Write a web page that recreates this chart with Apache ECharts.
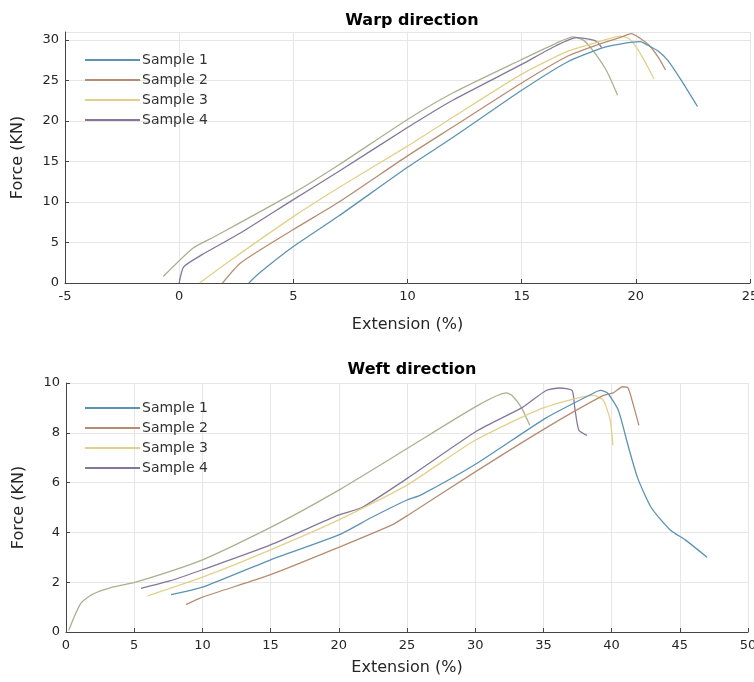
<!DOCTYPE html>
<html>
<head>
<meta charset="utf-8">
<script src="https://cdn.jsdelivr.net/npm/echarts@6/dist/echarts.min.js"></script>
<style>
  html, body { margin: 0; padding: 0; background: #fff; }
  #main { width: 754px; height: 682px; }
</style>
</head>
<body>
<div id="main"></div>
<script>
// 读图得到的数据 [extension %, force KN]
var sampleNames = ['Sample 1', 'Sample 2', 'Sample 3', 'Sample 4'];
var sampleColors = ['#5b93b5', '#b78c72', '#e2d08a', '#85779a', '#a9b190'];

// Warp direction
var warpSample1 = [[3.05,0],[3.5,1.2],[5,4.5],[7,8.3],[10,14.3],[12,18],[15,23.8],[17,27.3],[18.5,29],[19.3,29.5],[20.2,29.8],[20.5,29.4],[21,28.6],[21.4,27.5],[22,25],[22.7,21.8]];
var warpSample2 = [[1.9,0],[2.7,2.5],[5,6.6],[7,10],[10,15.7],[12,19.3],[15,24.7],[17,28],[18.5,29.6],[19.3,30.3],[19.8,30.8],[20.2,30.2],[20.6,29.3],[21,27.8],[21.3,26.3]];
var warpSample3 = [[0.9,0],[2.1,2.5],[5,8.2],[7,11.8],[10,16.9],[12,20.5],[15,25.8],[17,28.6],[18.5,29.9],[19.3,30.5],[19.7,30.2],[20.1,28.8],[20.5,26.8],[20.8,25.2]];
var warpSample4 = [[0,0],[0.2,2],[1,3.5],[2.7,6.2],[5,10.3],[7,13.8],[10,19.2],[12,22.6],[15,27],[16.5,29.3],[17.4,30.3],[18,30.1],[18.3,29.8],[18.5,29.1]];
var warpSample5 = [[-0.7,0.8],[0.6,4.3],[1.6,5.8],[5,11.1],[7,14.6],[10,20.2],[12,23.5],[15,27.6],[16.5,29.6],[17.25,30.4],[17.7,30],[18.1,28.8],[18.7,26.3],[19.2,23.2]];

// Weft direction
var weftSample1 = [[7.7,1.5],[10,1.8],[15,2.9],[20,3.9],[22.4,4.6],[25,5.3],[26,5.5],[30.2,6.8],[35.2,8.6],[38.7,9.6],[39.2,9.7],[39.7,9.6],[40.5,8.9],[41.2,7.5],[41.9,6.2],[42.9,5.0],[44.3,4.1],[45.4,3.7],[47,3.0]];
var weftSample2 = [[8.8,1.1],[10,1.4],[15,2.3],[20,3.4],[23.9,4.3],[25.1,4.7],[30.2,6.5],[35.2,8.2],[39.4,9.5],[40.1,9.6],[40.8,9.85],[41.2,9.8],[41.5,9.3],[42,8.3]];
var weftSample3 = [[6,1.45],[10,2.2],[15,3.3],[20,4.5],[25,5.9],[30,7.7],[35,9.0],[38.7,9.5],[39.4,9.3],[39.9,8.5],[40.1,7.5]];
var weftSample4 = [[5.5,1.75],[7.6,2.05],[10,2.5],[15,3.5],[20,4.7],[21.7,5.0],[25.1,6.2],[30.2,8.1],[33.4,9.0],[35.2,9.7],[36.2,9.8],[37.1,9.7],[37.3,9.0],[37.6,8.1],[38.2,7.9]];
var weftSample5 = [[0.2,0.07],[1.06,1.13],[1.9,1.5],[3.4,1.8],[5.1,2.0],[10,2.9],[15,4.2],[20,5.7],[25.1,7.4],[30.2,9.1],[32.3,9.6],[32.7,9.5],[33.4,9.0],[34,8.3]];

var warpData = [warpSample1, warpSample2, warpSample3, warpSample4, warpSample5];
var weftData = [weftSample1, weftSample2, weftSample3, weftSample4, weftSample5];

var font = 'DejaVu Sans, sans-serif';
var textColor = '#262626';

function makeX(idx, min, max, gap) {
    return {
        type: 'value', gridIndex: idx, min: min, max: max, interval: 5,
        name: 'Extension (%)', nameLocation: 'middle', nameGap: gap,
        nameTextStyle: { color: textColor, fontSize: 16, fontFamily: font },
        axisLine: { onZero: false, lineStyle: { color: '#444', width: 1 } },
        axisTick: { inside: true, length: 4, lineStyle: { color: '#444' } },
        axisLabel: { color: textColor, fontSize: 13, fontFamily: font, margin: 7 },
        splitLine: { show: true, lineStyle: { color: '#e6e6e6' } }
    };
}
function makeY(idx, max, interval) {
    return {
        type: 'value', gridIndex: idx, min: 0, max: max, interval: interval,
        name: 'Force (KN)', nameLocation: 'middle', nameGap: 39,
        nameTextStyle: { color: textColor, fontSize: 16, fontFamily: font },
        axisLine: { show: true, onZero: false, lineStyle: { color: '#444', width: 1 } },
        axisTick: { show: true, inside: true, length: 4, lineStyle: { color: '#444' } },
        axisLabel: { color: textColor, fontSize: 13, fontFamily: font, margin: 6, showMaxLabel: max % interval === 0 },
        splitLine: { show: true, lineStyle: { color: '#e6e6e6' } }
    };
}
function makeSeries(data, idx) {
    return data.map(function (d, i) {
        return {
            type: 'line',
            name: i < sampleNames.length ? sampleNames[i] : 'Sample 5',
            xAxisIndex: idx, yAxisIndex: idx,
            data: d,
            showSymbol: false, symbol: 'none',
            smooth: 0.2,
            lineStyle: { color: sampleColors[i], width: 1.3 },
            itemStyle: { color: sampleColors[i] },
            z: 10 - i
        };
    });
}
function makeLegend(top) {
    return {
        data: sampleNames, orient: 'vertical', left: 80, top: top,
        itemWidth: 55, itemHeight: 2, itemGap: 6,
        icon: 'rect',
        textStyle: { color: '#333', fontSize: 14, fontFamily: font, padding: [0, 0, 0, -3] },
        selectedMode: false
    };
}

var myChart = echarts.init(document.getElementById('main'));
myChart.setOption({
    animation: false,
    title: [
        { text: 'Warp direction', left: 407, top: 8, textAlign: 'center',
          textStyle: { fontSize: 16, fontWeight: 'bold', color: '#000', fontFamily: font } },
        { text: 'Weft direction', left: 407, top: 357, textAlign: 'center',
          textStyle: { fontSize: 16, fontWeight: 'bold', color: '#000', fontFamily: font } }
    ],
    legend: [makeLegend(48), makeLegend(396)],
    grid: [
        { left: 65, right: 4, top: 32, bottom: 399, outerBoundsMode: 'none' },
        { left: 66, right: 6, top: 383, bottom: 50, outerBoundsMode: 'none' }
    ],
    xAxis: [makeX(0, -5, 25, 34), makeX(1, 0, 50, 28)],
    yAxis: [makeY(0, 31, 5), makeY(1, 10, 2)],
    series: makeSeries(warpData, 0).concat(makeSeries(weftData, 1))
});
</script>
</body>
</html>
